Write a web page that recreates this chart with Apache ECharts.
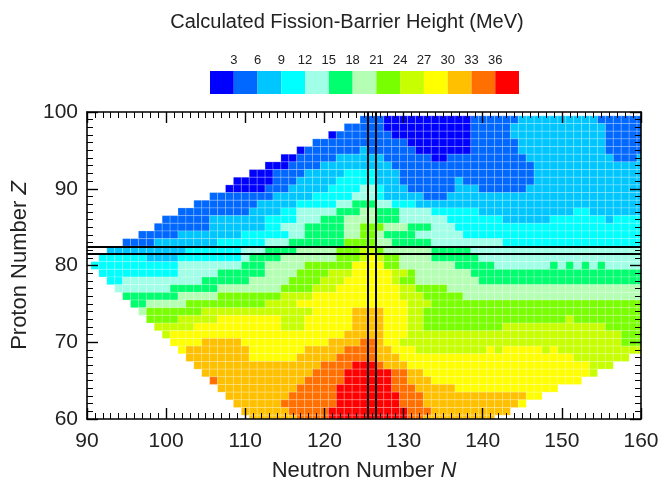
<!DOCTYPE html>
<html><head><meta charset="utf-8">
<script src="https://cdn.jsdelivr.net/npm/echarts@6/dist/echarts.min.js"></script>
<style>html,body{margin:0;padding:0;background:#fff}#c{width:663px;height:487px}</style>
</head><body><div id="c"></div>
<script>
// Colour classes (barrier height bins of 3 MeV)
const levelColors = ['#0000ff','#0068ff','#00c6ff','#00ffff','#a0ffe6','#00ff6e','#b4ffb4','#78ff00','#c8ff00','#ffff00','#ffc000','#ff7000','#ff0000'];
const legendTicks = [3,6,9,12,15,18,21,24,27,30,33,36];
const legendEdges = [0,3,6,9,12,15,18,21,24,27,30,33,36,39];
const magicN = [126];
const magicZ = [82];
const xTicks = [90,100,110,120,130,140,150,160];
const yTicks = [60,70,80,90,100];

// Rows of nuclei: proton number, first neutron number, run-length coded class ("class*count")
const rowZ = [99,98,97,96,95,94,93,92,91,90,89,88,87,86,85,84,83,82,81,80,79,78,77,76,75,74,73,72,71,70,69,68,67,66,65,64,63,62,61,60];
const rowStartN = [125,123,121,119,117,115,113,111,109,108,106,104,102,100,99,97,95,93,92,91,92,93,94,95,96,97,98,99,100,101,102,103,104,105,106,107,108,109,110,111];
const rowRuns = [
"1*3,0*11,1*6,2*10,1*6",
"1*5,0*11,1*5,2*12,1*5",
"0*1,1*7,0*10,1*5,2*12,1*5",
"1*12,0*8,1*6,2*11,1*5",
"0*1,1*7,2*1,1*6,0*7,1*6,2*11,1*5",
"0*2,1*5,2*6,1*6,0*2,1*10,2*11,1*3,2*1",
"0*3,1*4,2*9,1*18,2*14",
"0*3,1*4,2*5,3*4,2*3,1*17,2*14",
"0*5,1*3,2*5,3*5,2*3,1*7,2*1,1*9,2*14",
"0*5,1*3,2*5,3*4,4*2,3*1,2*3,1*6,2*3,1*6,2*15",
"1*8,2*5,3*5,4*3,3*1,2*5,1*3,2*25",
"1*8,2*5,3*5,4*2,5*3,4*2,3*3,2*29",
"1*9,2*4,3*2,4*5,5*3,6*2,5*3,4*4,3*6,2*12,3*2,2*7",
"1*6,2*7,3*4,4*3,5*3,6*4,5*3,4*6,3*7,2*6,3*7,2*1,3*4",
"1*7,2*7,3*2,4*3,5*5,6*2,7*3,6*3,5*3,4*3,3*24",
"1*5,2*8,3*6,4*2,5*5,6*2,7*2,6*1,5*4,4*6,3*23",
"1*4,2*8,3*6,4*3,5*7,7*4,6*2,5*5,4*9,3*18",
"2*10,3*7,4*3,5*4,6*5,7*3,8*2,7*1,6*6,5*5,4*22",
"3*6,2*4,3*8,4*1,5*4,6*7,7*3,8*1,9*1,8*1,7*2,6*4,5*6,4*21",
"3*11,4*8,5*3,6*5,7*6,9*4,7*2,6*7,5*5,4*7,5*1,4*1,5*1,4*1,5*1,4*1,5*1,4*5",
"3*10,4*5,5*6,6*4,7*4,8*3,9*5,8*2,7*1,6*7,5*22",
"3*2,4*10,5*6,6*5,7*4,8*3,9*6,8*1,7*2,6*8,5*21",
"4*7,5*6,6*8,7*4,8*3,9*8,8*2,7*4,6*25",
"5*7,6*5,7*8,8*4,9*11,8*3,7*5,6*23",
"5*2,6*5,7*10,8*4,9*14,8*3,7*27",
"6*1,7*7,8*14,9*5,10*4,9*3,8*2,7*28",
"7*4,8*5,9*8,8*3,9*6,10*4,9*3,8*2,7*18,8*1,7*9",
"8*5,9*11,8*3,9*6,10*4,9*3,8*2,7*10,8*13,7*5",
"8*1,9*22,10*5,9*3,8*27,7*3",
"9*4,10*5,9*11,10*4,11*2,10*1,9*2,8*28,7*3",
"9*1,10*8,9*7,10*5,11*4,10*2,9*3,8*9,9*1,8*1,9*5,8*1,9*1,8*11",
"10*8,9*6,10*5,11*5,10*3,9*22,8*7",
"10*16,11*4,12*3,11*1,10*3,9*23,8*3",
"10*14,11*4,12*6,11*2,10*2,9*21,8*1",
"11*1,10*11,11*5,12*6,11*2,10*3,9*19",
"10*10,11*5,12*7,11*3,10*5,9*13",
"10*8,11*6,12*8,11*3,10*13,9*2",
"10*6,11*7,12*8,11*3,10*12,9*1",
"10*6,11*5,12*10,11*3,10*10",
"10*6,11*4,12*10,11*2,10*9"
];

function expand(runs){
  const out=[];
  runs.split(',').forEach(r=>{const p=r.split('*').map(Number); for(let i=0;i<p[1];i++) out.push(p[0]);});
  return out;
}
const cells=[];
rowZ.forEach((z,k)=>{ expand(rowRuns[k]).forEach((lv,j)=>cells.push([rowStartN[k]+j, z, lv])); });
const legendData = levelColors.map((c,i)=>[legendEdges[i], legendEdges[i+1], i]);

const FONT = '"Liberation Sans", Arial, Helvetica, sans-serif';
const TXT = '#222';

function frameAxis(base){
  return Object.assign({
    type:'value', gridIndex:0, splitLine:{show:false}, z:10,
    axisLine:{show:true, onZero:false, lineStyle:{color:'#000', width:1.6}},
    axisTick:{show:true, inside:true, length:11, lineStyle:{color:'#000', width:1.4}},
    minorTick:{show:true, splitNumber:10, length:6, lineStyle:{color:'#000', width:1}},
  }, base);
}
const nameStyle = {fontSize:22, color:TXT, fontFamily:FONT,
  rich:{t:{fontSize:22,color:TXT,fontFamily:FONT}, i:{fontSize:22,color:TXT,fontFamily:FONT,fontStyle:'italic'}}};

const chart = echarts.init(document.getElementById('c'));
chart.setOption({
  animation:false,
  backgroundColor:'#fff',
  graphic:[{type:'text', x:347, y:22, z:20, style:{text:'Calculated Fission-Barrier Height (MeV)', textAlign:'center', textVerticalAlign:'middle', font:'20px '+FONT, fill:TXT}}],
  grid:[
    {left:87, top:112, width:554, height:314},
    {left:210, top:71, width:309, height:23}
  ],
  xAxis:[
    frameAxis({position:'bottom', min:xTicks[0], max:xTicks[xTicks.length-1], interval:10,
      axisLabel:{fontSize:21, color:TXT, fontFamily:FONT, margin:12},
      name:'{t|Neutron Number }{i|N}', nameLocation:'middle', nameGap:41, nameTextStyle:nameStyle}),
    frameAxis({position:'top', min:xTicks[0], max:xTicks[xTicks.length-1], interval:10, axisLabel:{show:false}}),
    {type:'value', gridIndex:1, position:'top', min:legendEdges[0], max:legendEdges[legendEdges.length-1], interval:3,
      axisLine:{show:false}, axisTick:{show:false}, splitLine:{show:false},
      axisLabel:{fontSize:13, color:TXT, fontFamily:FONT, margin:4, formatter:v=> legendTicks.indexOf(v)>=0 ? String(v) : ''}}
  ],
  yAxis:[
    frameAxis({position:'left', min:yTicks[0], max:yTicks[yTicks.length-1], interval:10,
      axisLabel:{fontSize:21, color:TXT, fontFamily:FONT, margin:9},
      name:'{t|Proton Number }{i|Z}', nameLocation:'middle', nameGap:56, nameRotate:90, nameTextStyle:nameStyle}),
    frameAxis({position:'right', min:yTicks[0], max:yTicks[yTicks.length-1], interval:10, axisLabel:{show:false}}),
    {type:'value', gridIndex:1, min:0, max:1, show:false}
  ],
  series:[
    {type:'custom', xAxisIndex:0, yAxisIndex:0, clip:true, z:2, data:cells, encode:{x:0,y:1},
      renderItem:function(params, api){
        const n=api.value(0), z=api.value(1), lv=api.value(2);
        const p0=api.coord([n-0.5, z+0.5]), p1=api.coord([n+0.5, z-0.5]);
        return {type:'rect', shape:{x:p0[0], y:p0[1], width:p1[0]-p0[0], height:p1[1]-p0[1]},
          style:{fill:levelColors[lv], stroke:'rgba(255,255,255,0.35)', lineWidth:0.6}};
      },
      markLine:{silent:true, symbol:['none','none'], z:6, label:{show:false},
        lineStyle:{color:'#000', width:2, type:'solid'},
        data:[].concat(
          magicN.flatMap(n=>[{xAxis:n-0.5},{xAxis:n+0.5}]),
          magicZ.flatMap(z=>[{yAxis:z-0.5},{yAxis:z+0.5}]))}
    },
    {type:'custom', xAxisIndex:2, yAxisIndex:2, data:legendData, encode:{x:[0,1]},
      renderItem:function(params, api){
        const a=api.coord([api.value(0),1]), b=api.coord([api.value(1),0]);
        return {type:'rect', shape:{x:a[0], y:a[1], width:b[0]-a[0], height:b[1]-a[1]}, style:{fill:levelColors[api.value(2)]}};
      }}
  ]
});
</script></body></html>
